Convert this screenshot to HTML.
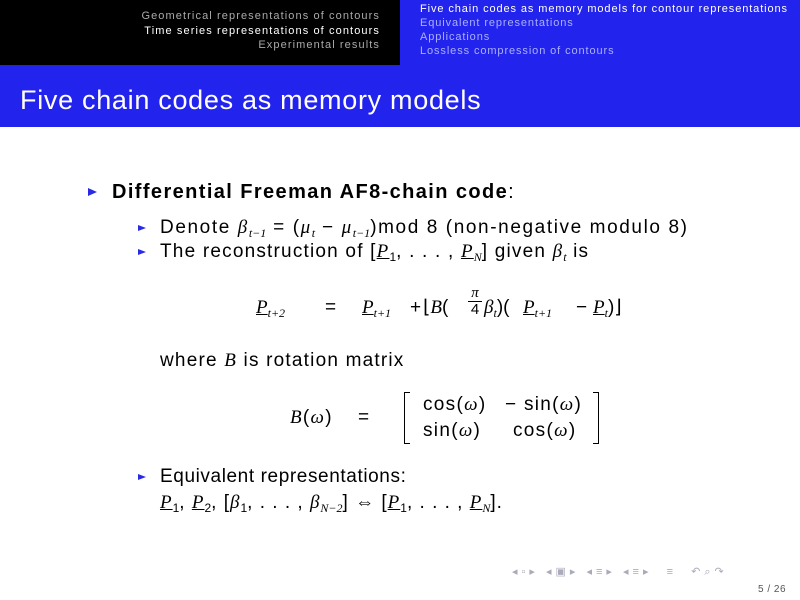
<!DOCTYPE html>
<html><head><meta charset="utf-8"><style>
body{margin:0;width:800px;height:600px;overflow:hidden;background:#fff;font-family:"Liberation Sans",sans-serif;position:relative}
.a{position:absolute;white-space:nowrap;line-height:20px;letter-spacing:1.3px}
.h{position:absolute;font-size:11px;line-height:13px;white-space:nowrap;letter-spacing:0.9px}
.m{font-family:"Liberation Serif",serif;font-style:italic}
.u{text-decoration:underline}
sub{font-size:12px;vertical-align:-4px;line-height:0;letter-spacing:0}
.tri{position:absolute;width:0;height:0;border-top:4px solid transparent;border-bottom:4px solid transparent;border-left:9px solid #2a2ae6}
.tri.s{border-top-width:3.5px;border-bottom-width:3.5px;border-left-width:8px}
.nav{position:absolute;color:#aab;font-size:11px}
.e{position:absolute;white-space:nowrap;line-height:20px;font-size:19px;top:298px}
</style></head><body>
<div style="position:absolute;left:0;top:0;width:400px;height:65px;background:#000"></div>
<div style="position:absolute;left:400px;top:0;width:400px;height:65px;background:#2323ee"></div>
<div style="position:absolute;left:0;top:65px;width:800px;height:62px;background:#2323ee"></div>
<div class="h" style="right:420px;top:10px;color:#aaa;letter-spacing:1.1px">Geometrical representations of contours</div>
<div class="h" style="right:420px;top:25px;color:#fff;letter-spacing:1.1px">Time series representations of contours</div>
<div class="h" style="right:420px;top:39px;color:#aaa;letter-spacing:1.1px">Experimental results</div>
<div class="h" style="left:420px;top:3px;color:#fff">Five chain codes as memory models for contour representations</div>
<div class="h" style="left:420px;top:17px;color:#aab0ff">Equivalent representations</div>
<div class="h" style="left:420px;top:31px;color:#aab0ff">Applications</div>
<div class="h" style="left:420px;top:45px;color:#aab0ff">Lossless compression of contours</div>
<div class="a" style="left:20px;top:84px;font-size:27px;line-height:32px;color:#fff;letter-spacing:0.7px">Five chain codes as memory models</div>

<div class="tri" style="left:88px;top:188px"></div>
<div class="a" style="left:112px;top:181px;font-size:20px;line-height:22px;letter-spacing:1.4px"><b>Differential Freeman AF8-chain code</b>:</div>
<div class="tri s" style="left:138px;top:225px"></div>
<div class="a" style="left:160px;top:218px;font-size:19px;letter-spacing:1.6px">Denote <span class="m">β</span><sub class="m">t−1</sub> = (<span class="m">μ</span><sub class="m">t</sub> − <span class="m">μ</span><sub class="m">t−1</sub>)mod 8 (non-negative modulo 8)</div>
<div class="tri s" style="left:138px;top:249px"></div>
<div class="a" style="left:160px;top:242px;font-size:19px;letter-spacing:1.2px">The reconstruction of [<span class="m u">P</span><sub>1</sub>, . . . , <span class="m u">P</span><sub class="m">N</sub>] given <span class="m">β</span><sub class="m">t</sub> is</div>

<div class="e" style="left:256px"><span class="m u">P</span><sub class="m">t+2</sub></div>
<div class="e" style="left:325px">=</div>
<div class="e" style="left:362px"><span class="m u">P</span><sub class="m">t+1</sub></div>
<div class="e" style="left:410px">+</div>
<div class="e" style="left:423px">⌊<span class="m">B</span>(</div>
<div class="a" style="left:468px;top:285px;font-size:15px;line-height:16px;text-align:center;width:14px;letter-spacing:0"><span class="m">π</span><div style="border-top:1px solid #000">4</div></div>
<div class="e" style="left:484px"><span class="m">β</span><sub class="m">t</sub>)(</div>
<div class="e" style="left:523px"><span class="m u">P</span><sub class="m">t+1</sub></div>
<div class="e" style="left:576px">−</div>
<div class="e" style="left:593px"><span class="m u">P</span><sub class="m">t</sub>)⌋</div>

<div class="a" style="left:160px;top:351px;font-size:19px;letter-spacing:1.2px">where <span class="m">B</span> is rotation matrix</div>
<div class="a" style="left:290px;top:408px;font-size:19px"><span class="m">B</span>(<span class="m">ω</span>)</div>
<div class="a" style="left:358px;top:408px;font-size:19px">=</div>
<div style="position:absolute;left:404px;top:392px;width:5px;height:50px;border:1.5px solid #000;border-right:none"></div>
<div style="position:absolute;left:593px;top:392px;width:5px;height:50px;border:1.5px solid #000;border-left:none"></div>
<div class="a" style="left:423px;top:395px;font-size:19px">cos(<span class="m">ω</span>)</div>
<div class="a" style="left:505px;top:395px;font-size:19px">− sin(<span class="m">ω</span>)</div>
<div class="a" style="left:423px;top:421px;font-size:19px">sin(<span class="m">ω</span>)</div>
<div class="a" style="left:513px;top:421px;font-size:19px">cos(<span class="m">ω</span>)</div>

<div class="tri s" style="left:138px;top:474px"></div>
<div class="a" style="left:160px;top:467px;font-size:19px;letter-spacing:0.6px">Equivalent representations:</div>
<div class="a" style="left:160px;top:493px;font-size:19px;letter-spacing:1px"><span class="m u">P</span><sub>1</sub>, <span class="m u">P</span><sub>2</sub>, [<span class="m">β</span><sub>1</sub>, . . . , <span class="m">β</span><sub class="m">N−2</sub>] ⇔ [<span class="m u">P</span><sub>1</sub>, . . . , <span class="m u">P</span><sub class="m">N</sub>].</div>

<div class="nav" style="left:512px;top:565px;letter-spacing:4px">◂▫▸ ◂▣▸ ◂≡▸ ◂≡▸ &nbsp;≡ &nbsp;↶⌕↷</div>
<div class="a" style="left:758px;top:580px;font-size:10px;color:#555;letter-spacing:0.5px">5 / 26</div>
</body></html>
